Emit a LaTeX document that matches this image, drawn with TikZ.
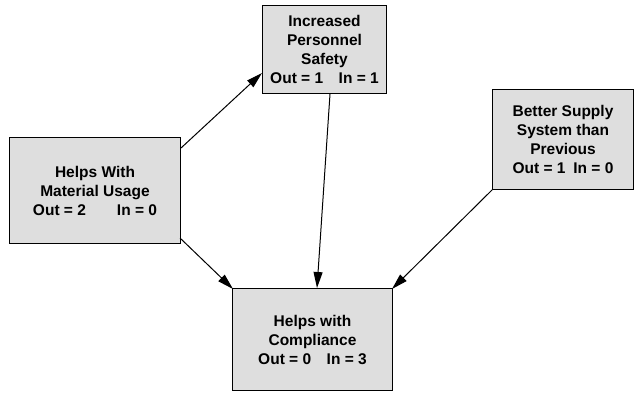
\documentclass[tikz,border=0pt]{standalone}
\usepackage{fontspec}
\setmainfont{Liberation Sans}
\usetikzlibrary{arrows.meta,calc}
\begin{document}
\begin{tikzpicture}[x=1pt,y=-1pt,
  factor/.style={draw=black, line width=1pt, fill=black!13, align=center,
    font=\bfseries\fontsize{15.5}{19}\selectfont, inner sep=0pt, anchor=north west},
  link/.style={line width=1pt, -{Triangle[length=16pt,width=9pt]}}]
\useasboundingbox (0,0) rectangle (642,394);
% the four factor boxes
\node[factor, minimum width=124pt, minimum height=88pt] (safety) at (262,5)
  {Increased\\Personnel\\Safety\\Out = 1\quad In = 1};
\node[factor, minimum width=171pt, minimum height=106pt] (material) at (9,137)
  {Helps With\\Material Usage\\Out = 2\qquad In = 0};
\node[factor, minimum width=141pt, minimum height=100pt] (supply) at (492,89)
  {Better Supply\\System than\\Previous\\Out = 1\enspace In = 0};
\node[factor, minimum width=160pt, minimum height=102pt] (compliance) at (232,288)
  {Helps with\\Compliance\\Out = 0\quad In = 3};
% attachment points on the box borders
\coordinate (m-out1) at ($(material.north east)+(0,11)$);
\coordinate (m-out2) at ($(material.south east)+(-1,-6)$);
\coordinate (s-in)   at ($(safety.south west)+(0,-21)$);
\coordinate (s-out)  at ($(safety.south west)+(68,0)$);
\coordinate (c-in1)  at ($(compliance.north west)+(1,1)$);
\coordinate (c-in2)  at ($(compliance.north west)+(85,0)$);
\coordinate (c-in3)  at ($(compliance.north east)+(-1,1)$);
\coordinate (p-out)  at ($(supply.south west)+(1,-1)$);
% influence links
\draw[link] (m-out1) -- (s-in);
\draw[link] (m-out2) -- (c-in1);
\draw[link] (s-out) -- (c-in2);
\draw[link] (p-out) -- (c-in3);
\end{tikzpicture}
\end{document}
